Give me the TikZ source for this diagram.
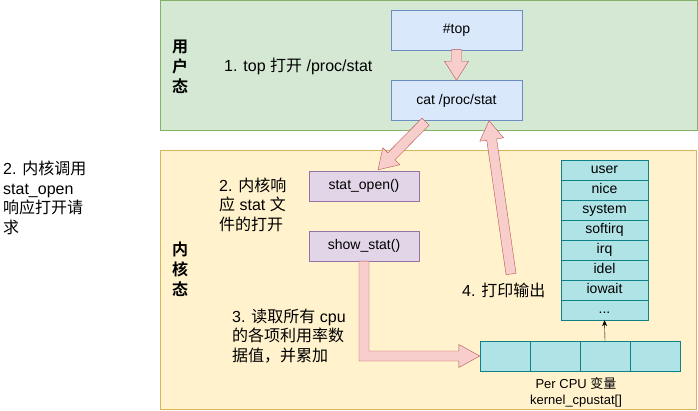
\documentclass[tikz,border=0pt]{standalone}
\usepackage{fontspec}
\setmainfont{Liberation Sans}
\newfontfamily\cjk{Noto Sans CJK SC}[BoldFont={Noto Sans CJK SC Bold}]
\usetikzlibrary{calc,arrows.meta}
\definecolor{gF}{HTML}{D5E8D4}\definecolor{gS}{HTML}{82B366}
\definecolor{yF}{HTML}{FFF2CC}\definecolor{yS}{HTML}{D6B656}
\definecolor{bF}{HTML}{DAE8FC}\definecolor{bS}{HTML}{6C8EBF}
\definecolor{pF}{HTML}{E1D5E7}\definecolor{pS}{HTML}{9673A6}
\definecolor{cF}{HTML}{B0E3E6}\definecolor{cS}{HTML}{0E8088}
\definecolor{rF}{HTML}{F8CECC}\definecolor{rS}{HTML}{B85450}
\newcommand\blockarr[2]{%
  \path ($(#2)!19pt!(#1)$) coordinate (bah);
  \draw[blockarrow] ($(#1)!5pt!90:(#2)$) -- ($(bah)!5pt!90:(#2)$) -- ($(bah)!12pt!90:(#2)$) -- (#2)
    -- ($(bah)!12pt!-90:(#2)$) -- ($(bah)!5pt!-90:(#2)$) -- ($(#1)!5pt!-90:(#2)$) -- cycle;}
\begin{document}
\begin{tikzpicture}[x=1pt,y=-1pt,font=\fontsize{14}{17}\selectfont,
  bluebox/.style={draw=bS,fill=bF,minimum width=131,minimum height=40,inner sep=0},
  purplebox/.style={draw=pS,fill=pF,minimum width=110,minimum height=30,inner sep=0,text height=10,text depth=3},
  cell/.style={draw=cS,fill=cF,minimum width=87,minimum height=20,inner sep=0,text height=10,text depth=3},
  arrcell/.style={draw=cS,fill=cF,minimum width=50,minimum height=30,inner sep=0},
  blockarrow/.style={draw=rS,fill=rF,line join=miter},
  lbl/.style={inner sep=0,align=left,anchor=west,font=\fontsize{16}{19.5}\selectfont},
  vlbl/.style={inner sep=0,align=center,font=\fontsize{16}{20}\selectfont\cjk\bfseries}]
\useasboundingbox (0,0) rectangle (698,411);
% zones
\draw[draw=gS,fill=gF] (160.5,0.5) rectangle (697.5,130.5);
\draw[draw=yS,fill=yF] (160.5,150.5) rectangle (696.5,409.5);
% user space
\node[bluebox] (top) at (456.5,30.5) {\#top};
\node[bluebox] (cat) at (456.5,100.5) {cat /proc/stat};
\node[vlbl] (ulbl) at (180,66.5) {用\\户\\态};
\node[lbl] (t1) at (224,66) {1. top {\cjk 打开} /proc/stat};
% kernel
\node[purplebox] (so) at (364,186) {stat\_open()};
\node[purplebox] (ss) at (364,246) {show\_stat()};
\node[vlbl] (klbl) at (180,269.5) {内\\核\\态};
\node[lbl] (t2) at (219,204.5) {2. {\cjk 内核响}\\{\cjk 应} stat {\cjk 文}\\{\cjk 件的打开}};
\node[lbl] (t3) at (232,336) {3. {\cjk 读取所有} cpu\\{\cjk 的各项利用率数}\\{\cjk 据值，并累加}};
\node[lbl] (t4) at (462,290) {4. {\cjk 打印输出}};
\node[lbl] (t0) at (3,198) {2. {\cjk 内核调用}\\stat\_open\\{\cjk 响应打开请}\\{\cjk 求}};
% per cpu array
\foreach \i in {1,...,4} \node[arrcell] (a\i) at (455+\i*50,356) {};
\foreach \t [count=\i] in {user,nice,system,softirq,irq,idel,iowait}
  \node[cell] (s\i) at (604.5,150+\i*20) {\t};
\node[cell] (s8) at (604.5,310) {...};
\node[align=center,inner sep=0,font=\fontsize{13}{15.5}\selectfont] (pc) at (576,392.5) {Per CPU {\cjk 变量}\\kernel\_cpustat[]};
\draw[-{Stealth[length=6pt,width=5pt]}] (a3.north) -- (s8.south);
% block arrows
\coordinate (t0a) at ($(top.south)+(0,-1)$);
\blockarr{t0a}{cat.north}
\coordinate (c2a) at ($(cat.south)+(-31,1)$);
\coordinate (c2b) at ($(so.north)+(14,-1)$);
\blockarr{c2a}{c2b}
\coordinate (p4) at (511,274);
\coordinate (p4b) at ($(cat.south)+(32.5,0)$);
\blockarr{p4}{p4b}
% elbow arrow from show_stat to array
\coordinate (ec) at (ss.south |- a1.west);
\draw[blockarrow] ($(ss.south)+(-5,0)$) -- ($(ec)+(-5,5)$) -- ($(a1.west)+(-21,5)$) -- ($(a1.west)+(-21,11.5)$)
  -- (a1.west) -- ($(a1.west)+(-21,-11.5)$) -- ($(a1.west)+(-21,-5)$) -- ($(ec)+(5,-5)$) -- ($(ss.south)+(5,0)$) -- cycle;
\end{tikzpicture}
\end{document}
